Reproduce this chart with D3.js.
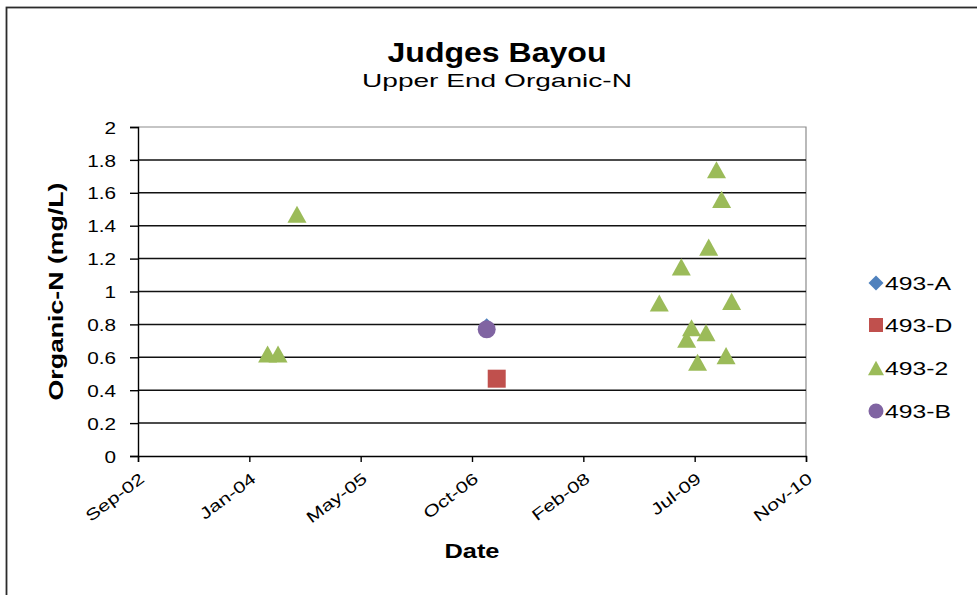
<!DOCTYPE html>
<html><head><meta charset="utf-8">
<script src="https://cdn.jsdelivr.net/npm/d3@7"></script>
<style>
body{margin:0;background:#fff;}
text{font-family:"Liberation Sans",Arial,sans-serif;fill:#000;}
</style>
</head><body>
<svg id="c" width="977" height="595"></svg>
<script>
// ---------- data ----------
const seriesNames = ["493-A", "493-D", "493-2", "493-B"];
const seriesColors = ["#4F81BD", "#C0504D", "#9BBB59", "#8064A2"];
const seriesShapes = ["diamond", "square", "triangle", "circle"];

const dates493A = ["2006-12-15"];
const values493A = [0.785];
const dates493D = ["2007-01-29"];
const values493D = [0.47];
const dates4932 = ["2004-04-05", "2004-05-22", "2004-08-15", "2009-01-28", "2009-05-07",
                   "2009-05-31", "2009-06-22", "2009-07-19", "2009-08-26", "2009-09-07",
                   "2009-10-12", "2009-11-04", "2009-11-24", "2009-12-19"];
const values4932 = [0.62, 0.62, 1.47, 0.93, 1.15,
                    0.71, 0.78, 0.57, 0.75, 1.27,
                    1.74, 1.56, 0.61, 0.94];
const dates493B = ["2006-12-15"];
const values493B = [0.77];

const yTickValues = [0, 0.2, 0.4, 0.6, 0.8, 1, 1.2, 1.4, 1.6, 1.8, 2];
const yTickLabels = ["0", "0.2", "0.4", "0.6", "0.8", "1", "1.2", "1.4", "1.6", "1.8", "2"];
const xTickLabels = ["Sep-02", "Jan-04", "May-05", "Oct-06", "Feb-08", "Jul-09", "Nov-10"];
const xStartDate = "2002-09-01";
const xTickStepDays = 500;

const titleText = "Judges Bayou";
const subtitleText = "Upper End Organic-N";
const xAxisTitle = "Date";
const yAxisTitle = "Organic-N (mg/L)";

// ---------- layout ----------
const svg = d3.select("#c");
const L = 138, R = 806, T = 127, B = 456;
const parse = d3.utcParse("%Y-%m-%d");
const x0 = parse(xStartDate);
const xTickDates = xTickLabels.map((_, i) => d3.utcDay.offset(x0, i * xTickStepDays));
const x = d3.scaleUtc().domain([x0, xTickDates[xTickDates.length - 1]]).range([L, R]);
const y = d3.scaleLinear().domain([0, 2]).range([B, T]);

function fit(sel, len) { sel.attr("textLength", len).attr("lengthAdjust", "spacingAndGlyphs"); }
function stretch(sel, f) {
  sel.each(function () {
    const w = this.getComputedTextLength();
    d3.select(this).attr("textLength", w * f).attr("lengthAdjust", "spacingAndGlyphs");
  });
}

// outer frame
svg.append("rect").attr("x", 6.5).attr("y", 7.5).attr("width", 1000).attr("height", 700)
  .attr("fill", "none").attr("stroke", "#2b2b2b").attr("stroke-width", 1.8);

// plot area border (top/right gray)
svg.append("path").attr("d", `M${L},${T}H${R}V${B}`).attr("fill", "none")
  .attr("stroke", "#8c8c8c").attr("stroke-width", 1.2);

// gridlines
svg.append("g").selectAll("line").data(yTickValues.filter(v => v > 0 && v < 2)).join("line")
  .attr("x1", L).attr("x2", R).attr("y1", d => y(d)).attr("y2", d => y(d))
  .attr("stroke", "#111").attr("stroke-width", 1.5);

// y axis
const yAxis = d3.axisLeft(y).tickValues(yTickValues).tickSize(8).tickFormat((d, i) => yTickLabels[i]);
const gy = svg.append("g").attr("transform", `translate(${L},0)`).call(yAxis);
gy.select(".domain").attr("stroke", "#000").attr("stroke-width", 1.4);
gy.selectAll(".tick line").attr("stroke", "#000").attr("stroke-width", 1.4);
gy.selectAll(".tick text").attr("x", -22).attr("dy", "0.36em")
  .style("font-size", "17px").style("font-family", '"Liberation Sans",Arial,sans-serif')
  .attr("fill", "#000").call(stretch, 1.22);

// x axis
const xAxis = d3.axisBottom(x).tickValues(xTickDates).tickSize(6).tickFormat((d, i) => xTickLabels[i]);
const gx = svg.append("g").attr("transform", `translate(0,${B})`).call(xAxis);
gx.select(".domain").attr("stroke", "#000").attr("stroke-width", 1.4);
gx.selectAll(".tick line").attr("stroke", "#000").attr("stroke-width", 1.4);
gx.selectAll(".tick text")
  .attr("y", 0).attr("dy", 0)
  .attr("text-anchor", "end")
  .attr("transform", "translate(7,25) rotate(-37)")
  .style("font-size", "16px").style("font-family", '"Liberation Sans",Arial,sans-serif')
  .attr("fill", "#000").call(stretch, 1.33);

// titles
svg.append("text").attr("x", 497).attr("y", 62).attr("text-anchor", "middle")
  .style("font-size", "27px").style("font-weight", "bold").text(titleText).call(fit, 219);
svg.append("text").attr("x", 497).attr("y", 87).attr("text-anchor", "middle")
  .style("font-size", "19px").text(subtitleText).call(fit, 270);
svg.append("text").attr("x", (L + R) / 2).attr("y", 558).attr("text-anchor", "middle")
  .style("font-size", "21px").style("font-weight", "bold").text(xAxisTitle).call(fit, 55);
svg.append("text").attr("transform", `translate(63,${(T + B) / 2}) rotate(-90)`).attr("text-anchor", "middle")
  .style("font-size", "20px").style("font-weight", "bold").text(yAxisTitle).call(fit, 218);

// markers
function shapePath(shape, s) {
  const h = s / 2;
  if (shape === "diamond") return `M0,${-h}L${h},0L0,${h}L${-h},0Z`;
  if (shape === "square") return `M${-h},${-h}H${h}V${h}H${-h}Z`;
  if (shape === "triangle") return `M0,${-h * 0.9}L${h},${h * 0.9}L${-h},${h * 0.9}Z`;
  return `M${-h},0A${h},${h} 0 1,0 ${h},0A${h},${h} 0 1,0 ${-h},0Z`;
}
const seriesData = [
  [dates493A, values493A], [dates493D, values493D], [dates4932, values4932], [dates493B, values493B]
];
const markerSizes = [17, 18, 19, 18];
seriesData.forEach(([ds, vs], si) => {
  svg.append("g").selectAll("path").data(ds.map((d, i) => ({ d: parse(d), v: vs[i] }))).join("path")
    .attr("transform", p => `translate(${x(p.d)},${y(p.v)})`)
    .attr("d", shapePath(seriesShapes[si], markerSizes[si]))
    .attr("fill", seriesColors[si]);
});

// legend
const legendY = [283, 325, 368, 411];
const legendSizes = [15, 14, 16, 15];
const lg = svg.append("g");
seriesNames.forEach((name, i) => {
  lg.append("path").attr("transform", `translate(876,${legendY[i]})`)
    .attr("d", shapePath(seriesShapes[i], legendSizes[i])).attr("fill", seriesColors[i]);
  lg.append("text").attr("x", 885).attr("y", legendY[i] + 7)
    .style("font-size", "19px").text(name).call(stretch, 1.3);
});
</script>
</body></html>
